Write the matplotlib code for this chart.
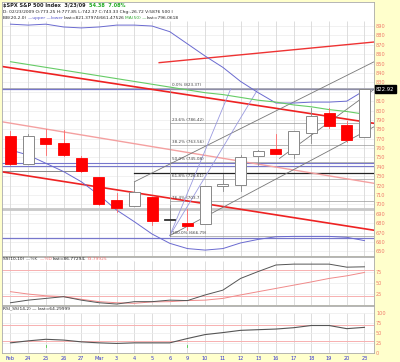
import matplotlib
matplotlib.use('Agg')
import matplotlib.pyplot as plt
from matplotlib.patches import Rectangle

W, H = 400, 362

# ---------------- data ----------------
dates = ['Feb', '24', '25', '26', '27', 'Mar', '3', '4', '5', '6', '9', '10',
         '11', '12', '13', '16', '17', '18', '19', '20', '23']
opens = [773.25, 743.33, 770.64, 765.76, 749.93, 729.57, 704.44, 698.60, 708.27,
         684.04, 680.76, 679.28, 719.59, 720.89, 751.97, 758.84, 753.88, 776.01,
         797.92, 784.58, 772.31]
highs = [777.85, 775.49, 780.12, 779.42, 751.27, 729.57, 711.67, 724.12, 708.27,
         699.09, 695.27, 719.60, 731.92, 752.63, 758.29, 774.53, 778.12, 803.04,
         803.24, 788.91, 823.37]
lows = [742.37, 743.33, 752.89, 751.75, 734.52, 699.70, 692.30, 698.60, 677.93,
        666.79, 672.88, 679.28, 713.85, 714.76, 742.46, 753.37, 749.93, 765.64,
        781.82, 766.20, 772.31]
closes = [743.33, 773.14, 764.90, 752.83, 735.09, 700.82, 696.33, 712.87, 682.55,
          683.38, 676.53, 719.60, 721.36, 750.74, 756.55, 753.89, 778.12, 794.35,
          784.04, 768.54, 822.92]
prev_close = 770.05

bb_upper = [892, 891, 892, 889, 888, 889, 891, 891, 890, 884, 871, 858, 846, 831,
            819, 808, 808, 809, 809, 810, 821.4]
bb_lower = [758, 752.6, 743.8, 735, 724.2, 710, 694, 681.6, 668.5, 658.6, 653,
            651.4, 653, 659, 662.8, 665.6, 666, 666, 666, 665, 661.5]
ma50 = [852, 849, 846, 843, 840, 837, 834, 831, 828, 825, 822, 819, 817, 814, 811,
        809, 806, 804, 801, 799, 796.1]

stoch_k = [4, 10, 14, 18, 10, 4, 1, 6.5, 6.5, 10, 9, 22, 33, 60, 76, 91, 93, 93, 93,
           86, 86.8]
stoch_d = [29.5, 24, 20, 18, 12, 6.5, 4, 2.7, 6, 6.5, 9, 10, 14, 22, 29.5, 37, 44.5,
           52, 60, 66, 73.8]
rsi = [25, 30, 34, 32, 27.5, 25, 23.5, 25, 25, 25, 36, 46, 51, 56.7, 58.4, 60, 63.4,
       69, 69, 61, 64.3]

fib_pct = ['0.0%', '23.6%', '38.2%', '50.0%', '61.8%', '76.4%', '100.0%']
fib_price = [823.37, 786.42, 763.56, 745.08, 726.61, 703.75, 666.79]
fib_start = 9

# trend lines: ((day, price), (day, price), colour, width)
trendlines = [
    ((8.4, 851.0), (20.55, 873.0), '#ee3333', 1.0),
    ((-0.5, 847.0), (20.55, 786.4), '#ee2222', 1.2),
    ((-0.5, 788.1), (20.55, 722.5), '#f4a0a0', 1.0),
    ((-0.5, 734.8), (20.55, 672.5), '#ee2222', 1.2),
    ((9.0, 666.79), (20.55, 782.8), '#777777', 0.6),
    ((7.0, 724.12), (20.55, 852.0), '#777777', 0.6),
    ((15.2, 749.0), (20.5, 822.0), '#777777', 0.6),
    ((9.0, 666.79), (12.45, 823.4), '#9a9ae0', 0.6),
    ((9.0, 666.79), (14.0, 823.4), '#9a9ae0', 0.6),
]
# horizontal lines: (price, start day, colour, width)
hlines = [
    (824.5, -0.5, '#aaaaaa', 0.6),
    (823.4, -0.5, '#7777cc', 0.9),
    (744.2, -0.5, '#7777cc', 0.8),
    (741.1, -0.5, '#7777cc', 0.8),
    (733.1, 7.0, '#222222', 0.9),
    (694.8, -0.5, '#c8c8c8', 2.0),
    (664.8, -0.5, '#7777cc', 0.9),
]

# ---------------- figure ----------------
fig = plt.figure(figsize=(W / 100, H / 100), dpi=100, facecolor='#ffffcc')
XL = (-0.48, 20.54)


def add_ax(y_top, y_bot):
    ax = fig.add_axes([2 / W, 1 - y_bot / H, 372 / W, (y_bot - y_top) / H])
    ax.set_facecolor('white')
    for s in ax.spines.values():
        s.set_color('#aaaaaa')
        s.set_linewidth(0.6)
    ax.set_xlim(*XL)
    ax.tick_params(axis='both', length=0, pad=1.5)
    ax.set_xticks([])
    ax.yaxis.tick_right()
    return ax


label_col = '#f07a6a'
n = len(dates)
days = list(range(n))

# ---- main price panel ----
ax1 = add_ax(2, 256)
ax1.set_ylim(645.1, 915.6)
for p in range(650, 891, 10):
    ax1.axhline(p, color='#ececec', lw=0.5, zorder=0)
ax1.vlines(days, 645.1, 895.5, color='#d8d8d8', lw=0.6, zorder=0)
ticks = [p for p in range(650, 891, 10) if p != 820]
ax1.set_yticks(ticks)
ax1.set_yticklabels([str(p) for p in ticks], fontsize=3.6, color=label_col)

for pr, x0, c, lw in hlines:
    ax1.plot([x0, XL[1]], [pr, pr], color=c, lw=lw, zorder=1)
ax1.plot([-0.5, 4.1], [735.9, 735.9], color='#888888', lw=0.7, zorder=1)

for (x0, y0), (x1, y1), c, lw in trendlines:
    ax1.plot([x0, x1], [y0, y1], color=c, lw=lw, zorder=2)

for pct, pr in zip(fib_pct, fib_price):
    ax1.plot([fib_start, XL[1]], [pr, pr], color='#999999', lw=0.5, zorder=1)
    ax1.text(fib_start + 0.12, pr + 1.2, '%s (%.2f)' % (pct, pr), fontsize=3.0,
             color='#444444', va='bottom', ha='left', zorder=3)
ax1.plot([fib_start, fib_start], [fib_price[-1], fib_price[0]], color='#999999', lw=0.5)

ax1.plot(days, bb_upper, color='#6a6ad0', lw=0.7, zorder=3)
ax1.plot(days, bb_lower, color='#6a6ad0', lw=0.7, zorder=3)
ax1.plot(days, ma50, color='#66cc66', lw=0.8, zorder=3)

for i in days:
    pc = prev_close if i == 0 else closes[i - 1]
    red = closes[i] < pc
    filled = closes[i] < opens[i]
    col = '#ff0000' if red else '#888888'
    ax1.plot([i, i], [lows[i], highs[i]], color='#ff6666' if red else '#888888',
             lw=0.6, zorder=4)
    lo, hi = sorted([opens[i], closes[i]])
    if filled:
        fc = '#ff0000' if red else '#333333'
        ax1.add_patch(Rectangle((i - 0.31, lo), 0.62, max(hi - lo, 0.6), facecolor=fc,
                                edgecolor=fc, lw=0.6, zorder=5))
    else:
        ax1.add_patch(Rectangle((i - 0.31, lo), 0.62, hi - lo, facecolor='white',
                                edgecolor=col, lw=0.7, zorder=5))

# last price box
ax1.annotate('%.2f' % closes[-1], xy=(1.0, closes[-1]), xycoords=('axes fraction', 'data'),
             xytext=(1.5, 0), textcoords='offset points', fontsize=3.8, color='white',
             va='center', ha='left',
             bbox=dict(boxstyle='square,pad=0.25', fc='black', ec='black'))

# ---- stochastics panel ----
ax2 = add_ax(257, 305)
ax2.set_ylim(-1.2, 109.4)
ax2.vlines(days, -1.2, 100, color='#d8d8d8', lw=0.6, zorder=0)
for v in (25, 50, 75):
    ax2.axhline(v, color='#ececec', lw=0.5, zorder=0)
for v in (80, 20):
    ax2.axhline(v, color='#f7b0b0', lw=0.7, zorder=1)
ax2.plot(days, stoch_d, color='#f08a8a', lw=0.7, zorder=2)
ax2.plot(days, stoch_k, color='#555555', lw=0.7, zorder=3)
ax2.set_yticks([25, 50, 75])
ax2.set_yticklabels(['25', '50', '75'], fontsize=3.6, color=label_col)

# ---- RSI panel ----
ax3 = add_ax(306, 353)
ax3.set_ylim(-0.8, 118.5)
ax3.vlines(days, -0.8, 100, color='#d8d8d8', lw=0.6, zorder=0)
for v in (25, 50, 75, 100):
    ax3.axhline(v, color='#ececec', lw=0.5, zorder=0)
for v in (70, 30):
    ax3.axhline(v, color='#f7b0b0', lw=0.7, zorder=1)
ax3.plot(days, rsi, color='#555555', lw=0.8, zorder=3)
ax3.set_yticks([0, 25, 50, 75, 100])
ax3.set_yticklabels(['0', '25', '50', '75', '100'], fontsize=3.6, color=label_col)
for d in (2, 10):
    ax3.plot([d, d], [15, 20], color='#44cc44', lw=0.6)

ax3.set_xticks(days)
ax3.set_xticklabels(dates, fontsize=3.6, color='#3333cc')
ax3.tick_params(axis='x', length=0, pad=2)

# ---------------- header texts ----------------
fig.canvas.draw()
rend = fig.canvas.get_renderer()


def seg_text(x_px, y_px, parts, size, weight='normal'):
    x = x_px
    for s, c in parts:
        t = fig.text(x / W, 1 - y_px / H, s, color=c, fontsize=size, va='center',
                     ha='left', fontweight=weight)
        x += t.get_window_extent(renderer=rend).width


seg_text(3, 5.5, [('$SPX S&P 500 Index  3/23/09  ', '#222222'), ('54.38  7.08%', '#22aa22')],
         3.6, 'bold')
seg_text(3, 12, [('D: 02/23/2009 O:773.25 H:777.85 L:742.37 C:743.33 Chg:-26.72 V:5876 500 I',
                  '#222222')], 3.2)
seg_text(3, 18, [('BB(20,2.0) ', '#222222'), ('\u2014upper \u2014lower ', '#5555cc'),
                 ('last=821.37974/661.47526 ', '#222222'), ('MA(50) \u2014', '#33aa33'),
                 ('last=796.0618', '#222222')], 3.2)
seg_text(3, 259.5, [('SS(10,10) ', '#222222'), ('\u2014%K  ', '#555555'),
                    ('\u2014%D ', '#f07070'), ('last=86.77294;', '#222222'),
                    ('73.79925', '#f07070')], 3.2)
seg_text(3, 308, [('RSI_SS(14,2) \u2014 last=64.29999', '#222222')], 3.2)

fig.savefig('out.png', dpi=100, facecolor=fig.get_facecolor())
